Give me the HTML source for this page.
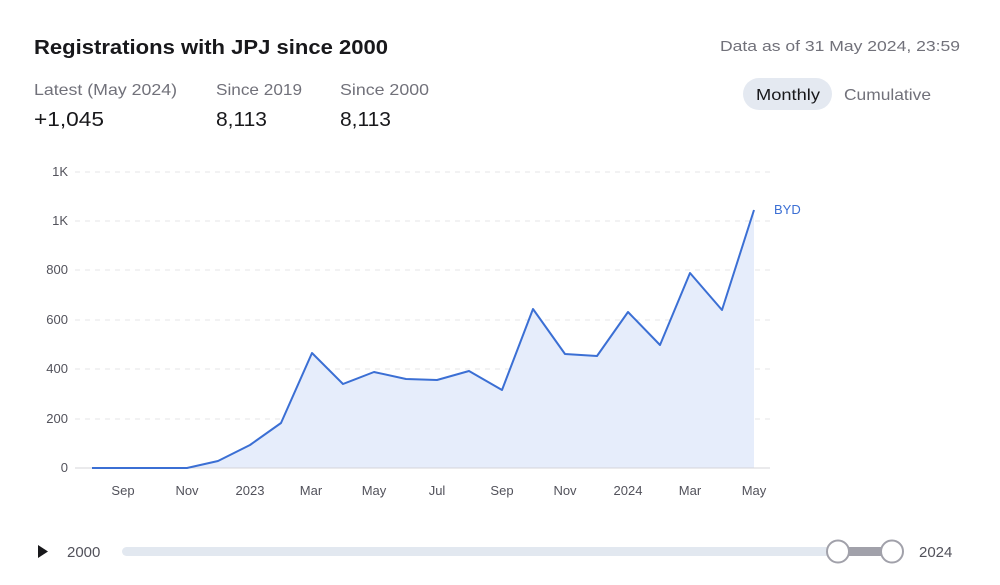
<!DOCTYPE html>
<html><head><meta charset="utf-8"><style>
body{margin:0;background:#fff;width:1000px;height:580px;overflow:hidden;font-family:"Liberation Sans",sans-serif}
</style></head><body>
<svg width="1000" height="580" xmlns="http://www.w3.org/2000/svg" font-family="Liberation Sans, sans-serif">
<text x="34" y="54" font-size="20" font-weight="bold" fill="#18181b" textLength="354" lengthAdjust="spacingAndGlyphs">Registrations with JPJ since 2000</text>
<text x="720" y="51" font-size="15" fill="#71717a" textLength="240" lengthAdjust="spacingAndGlyphs">Data as of 31 May 2024, 23:59</text>
<text x="34" y="95" font-size="16" fill="#71717a" textLength="143" lengthAdjust="spacingAndGlyphs">Latest (May 2024)</text>
<text x="216" y="95" font-size="16" fill="#71717a" textLength="86" lengthAdjust="spacingAndGlyphs">Since 2019</text>
<text x="340" y="95" font-size="16" fill="#71717a" textLength="89" lengthAdjust="spacingAndGlyphs">Since 2000</text>
<text x="34" y="126" font-size="20" fill="#18181b" textLength="70" lengthAdjust="spacingAndGlyphs">+1,045</text>
<text x="216" y="126" font-size="20" fill="#18181b" textLength="51" lengthAdjust="spacingAndGlyphs">8,113</text>
<text x="340" y="126" font-size="20" fill="#18181b" textLength="51" lengthAdjust="spacingAndGlyphs">8,113</text>
<rect x="743" y="78" width="89" height="32" rx="16" fill="#e4e9f1"/>
<text x="756" y="100" font-size="16" fill="#18181b" textLength="64" lengthAdjust="spacingAndGlyphs">Monthly</text>
<text x="844" y="100" font-size="16" fill="#71717a" textLength="87" lengthAdjust="spacingAndGlyphs">Cumulative</text>
<g stroke="#e4e4e7" stroke-dasharray="5,5">
<line x1="75" x2="770" y1="172" y2="172"/><line x1="75" x2="770" y1="221" y2="221"/>
<line x1="75" x2="770" y1="270" y2="270"/><line x1="75" x2="770" y1="320" y2="320"/>
<line x1="75" x2="770" y1="369" y2="369"/><line x1="75" x2="770" y1="419" y2="419"/>
</g>
<g font-size="13" fill="#52525b" text-anchor="end">
<text x="68" y="176">1K</text><text x="68" y="225">1K</text><text x="68" y="274">800</text>
<text x="68" y="324">600</text><text x="68" y="373">400</text><text x="68" y="423">200</text><text x="68" y="472">0</text>
</g>
<polygon fill="#e6edfb" points="92,468 123,468 155,468 187,468 218,461 250,445 281,423 312,353 343,384 374,372 406,379 437,380 469,371 502,390 533,309 565,354 597,356 628,312 660,345 690,273 722,310 754,210 754,468"/>
<line x1="75" x2="770" y1="468" y2="468" stroke="#d4d4d8"/>
<polyline fill="none" stroke="#3b6fd4" stroke-width="2" stroke-linejoin="round" points="92,468 123,468 155,468 187,468 218,461 250,445 281,423 312,353 343,384 374,372 406,379 437,380 469,371 502,390 533,309 565,354 597,356 628,312 660,345 690,273 722,310 754,210"/>
<text x="774" y="214" font-size="13" fill="#3b6fd4">BYD</text>
<g font-size="13" fill="#52525b" text-anchor="middle">
<text x="123" y="495">Sep</text><text x="187" y="495">Nov</text><text x="250" y="495">2023</text>
<text x="311" y="495">Mar</text><text x="374" y="495">May</text><text x="437" y="495">Jul</text>
<text x="502" y="495">Sep</text><text x="565" y="495">Nov</text><text x="628" y="495">2024</text>
<text x="690" y="495">Mar</text><text x="754" y="495">May</text>
</g>
<polygon points="38,545 38,558 48,551.5" fill="#18181b"/>
<text x="67" y="557" font-size="15" fill="#52525b">2000</text>
<rect x="122" y="547" width="770" height="9" rx="4.5" fill="#e2e8f0"/>
<rect x="838" y="547" width="54" height="9" fill="#a1a1aa"/>
<circle cx="838" cy="551.5" r="11" fill="#fff" stroke="#a1a1aa" stroke-width="2"/>
<circle cx="892" cy="551.5" r="11" fill="#fff" stroke="#a1a1aa" stroke-width="2"/>
<text x="919" y="557" font-size="15" fill="#52525b">2024</text>
</svg>
</body></html>
